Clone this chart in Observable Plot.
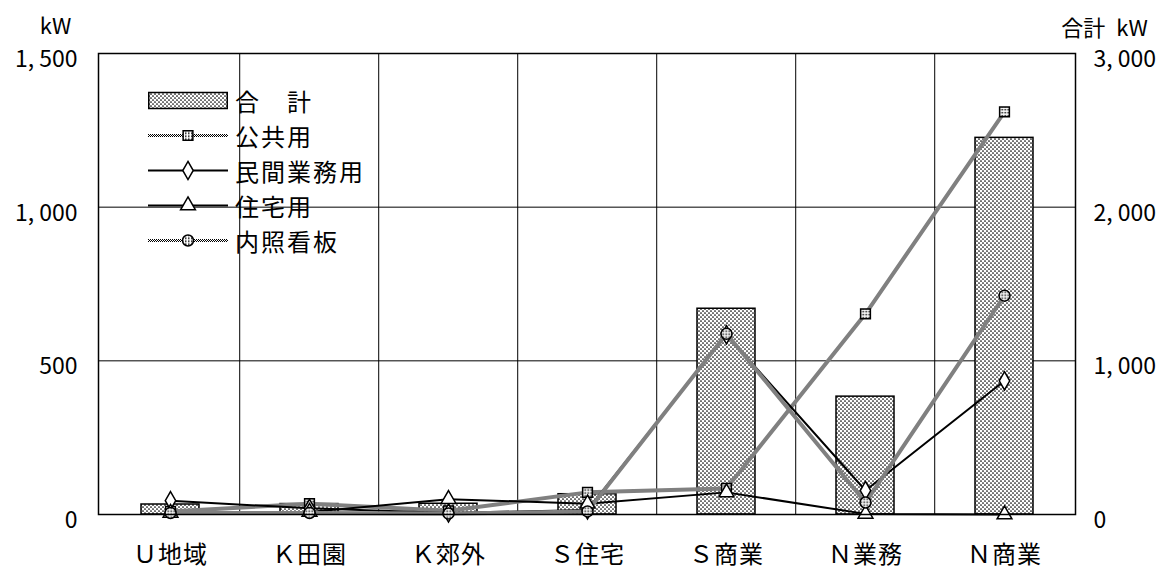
<!DOCTYPE html>
<html lang="ja">
<head>
<meta charset="utf-8">
<script src="https://cdn.jsdelivr.net/npm/d3@7"></script>
<script src="https://cdn.jsdelivr.net/npm/@observablehq/plot@0.6"></script>
<style>
  html, body { margin: 0; padding: 0; background: #fff; }
  #wrap { position: relative; width: 1172px; height: 569px; overflow: hidden; }
  #legend { position: absolute; left: 148px; top: 83px; font-family: "Noto Sans CJK JP", sans-serif;
            font-size: 24px; letter-spacing: 2px; color: #000; }
  #legend .row { display: flex; align-items: center; height: 35px; }
  #legend .row svg { flex: none; margin-right: 7px; }
  g[aria-label="x-axis tick label"] text { letter-spacing: 1px; }
</style>
</head>
<body>
<div id="wrap"></div>
<script>
// Regions (x categories)
const categories = ["Ｕ地域", "Ｋ田園", "Ｋ郊外", "Ｓ住宅", "Ｓ商業", "Ｎ業務", "Ｎ商業"];
// 合計 (right axis, kW)
const total = [65, 68, 70, 132, 1339, 767, 2451];
// Per-use series (left axis, kW)
const publicUse = [10, 35, 12, 72, 85, 653, 1310];      // 公共用
const businessUse = [45, 20, 5, 15, 585, 78, 435];      // 民間業務用
const residentialUse = [5, 8, 50, 35, 72, 2, 0];        // 住宅用
const signboardUse = [5, 5, 3, 10, 588, 39, 712];       // 内照看板
// Axis ticks
const leftTicks = [0, 500, 1000, 1500];
const rightTicks = [0, 1000, 2000, 3000];

const W = 1172, H = 569;
const ML = 98, MR = 97, MT = 53, MB = 55;
const step = (W - ML - MR) / categories.length;
const barPad = 0.585;

const fmt = d => d >= 1000 ? d3.format(",")(d).replace(",", ", ") : String(d);

const barRows = categories.map((c, i) => ({c, total: total[i]}));

const series = [
  {name: "公共用", values: publicUse, dotted: true, symbol: "square", fill: "url(#markDots)"},
  {name: "民間業務用", values: businessUse, dotted: false, symbol: "diamond", fill: "#fff"},
  {name: "住宅用", values: residentialUse, dotted: false, symbol: "triangle", fill: "#fff"},
  {name: "内照看板", values: signboardUse, dotted: true, symbol: "circle", fill: "url(#markDots)"}
];

const seriesRows = s => categories.map((c, i) => ({c, v: s.values[i]}));

const lineMarks = series.map(s => Plot.line(seriesRows(s), {
  x: "c", y: "v",
  stroke: s.dotted ? "url(#lineDots)" : "#000",
  strokeWidth: s.dotted ? 4 : 2,
  curve: "linear"
}));

const dotMarks = series.map(s => Plot.dot(seriesRows(s), {
  x: "c", y: "v",
  symbol: s.symbol, r: 5.5,
  fill: s.fill, stroke: "#000", strokeWidth: 1.5
}));

const chart = Plot.plot({
  width: W, height: H,
  marginLeft: ML, marginRight: MR, marginTop: MT, marginBottom: MB,
  style: {fontFamily: "'Noto Sans CJK JP', sans-serif", fontSize: "22px", background: "#fff", color: "#000"},
  x: {type: "band", domain: categories, paddingInner: barPad, paddingOuter: barPad / 2},
  y: {domain: [0, 1500]},
  marks: [
    // horizontal grid
    Plot.ruleY(leftTicks, {stroke: "#000", strokeWidth: 1}),
    // vertical grid between regions
    Plot.ruleX(categories.slice(1), {x: d => d, dx: -step / 2, stroke: "#000", strokeWidth: 1}),
    // 合計 bars, drawn against the right-hand (×2) scale
    Plot.barY(barRows, {x: "c", y: d => d.total / 2, fill: "url(#barDots)", stroke: "#000", strokeWidth: 1.5}),
    ...lineMarks,
    ...dotMarks,
    Plot.frame({stroke: "#000", strokeWidth: 1.5}),
    Plot.axisY(leftTicks, {anchor: "left", tickSize: 0, tickPadding: 21, tickFormat: fmt, fontSize: 23, dy: 6, label: null}),
    Plot.axisY(rightTicks.map(d => d / 2), {anchor: "right", tickSize: 0, tickPadding: 18, tickFormat: d => fmt(d * 2), fontSize: 23, dy: 6, label: null}),
    Plot.axisX({tickSize: 0, tickPadding: 31, fontSize: 24, label: null}),
    Plot.text(["kW"], {text: d => d, frameAnchor: "top-left", textAnchor: "middle", lineAnchor: "middle", dx: -43, dy: -27, fontSize: 22}),
    Plot.text(["合計\u2002kW"], {text: d => d, frameAnchor: "top-right", textAnchor: "middle", lineAnchor: "middle", dx: 29, dy: -25, fontSize: 22})
  ]
});

// stipple patterns used by bars, dotted lines and markers
const defs = d3.select(chart).insert("defs", ":first-child");
const barPat = defs.append("pattern").attr("id", "barDots").attr("patternUnits", "userSpaceOnUse")
  .attr("width", 4).attr("height", 4);
barPat.append("rect").attr("width", 4).attr("height", 4).attr("fill", "#fff");
barPat.append("circle").attr("cx", 1).attr("cy", 1).attr("r", 0.85).attr("fill", "#000");
barPat.append("circle").attr("cx", 3).attr("cy", 3).attr("r", 0.85).attr("fill", "#000");

const linePat = defs.append("pattern").attr("id", "lineDots").attr("patternUnits", "userSpaceOnUse")
  .attr("width", 2).attr("height", 2);
linePat.append("rect").attr("width", 2).attr("height", 2).attr("fill", "#fff");
linePat.append("rect").attr("x", 0).attr("y", 0).attr("width", 1).attr("height", 1).attr("fill", "#000");
linePat.append("rect").attr("x", 1).attr("y", 1).attr("width", 1).attr("height", 1).attr("fill", "#000");

const markPat = defs.append("pattern").attr("id", "markDots").attr("patternUnits", "userSpaceOnUse")
  .attr("width", 3).attr("height", 3);
markPat.append("rect").attr("width", 3).attr("height", 3).attr("fill", "#fff");
markPat.append("rect").attr("x", 0).attr("y", 0).attr("width", 1.5).attr("height", 1.5).attr("fill", "#000");

const wrap = document.getElementById("wrap");
wrap.appendChild(chart);

// legend
const legend = d3.select(wrap).append("div").attr("id", "legend");
const legendItems = [{name: "合　計", bar: true}, ...series];
for (const item of legendItems) {
  const row = legend.append("div").attr("class", "row");
  const sw = row.append("svg").attr("width", 80).attr("height", 35);
  if (item.bar) {
    sw.append("rect").attr("x", 0.75).attr("y", 9.5).attr("width", 78.5).attr("height", 16)
      .attr("fill", "url(#barDots)").attr("stroke", "#000").attr("stroke-width", 1.5);
  } else {
    sw.append("line").attr("x1", 0).attr("x2", 80).attr("y1", 17.5).attr("y2", 17.5)
      .attr("stroke", item.dotted ? "url(#lineDots)" : "#000")
      .attr("stroke-width", item.dotted ? 3 : 2);
    const sym = {square: d3.symbolSquare, diamond: d3.symbolDiamond, triangle: d3.symbolTriangle, circle: d3.symbolCircle}[item.symbol];
    sw.append("path").attr("transform", "translate(40,17.5)")
      .attr("d", d3.symbol(sym, 5.5 * 5.5 * Math.PI)())
      .attr("fill", item.fill).attr("stroke", "#000").attr("stroke-width", 1.5);
  }
  row.append("span").text(item.name);
}
</script>
</body>
</html>
